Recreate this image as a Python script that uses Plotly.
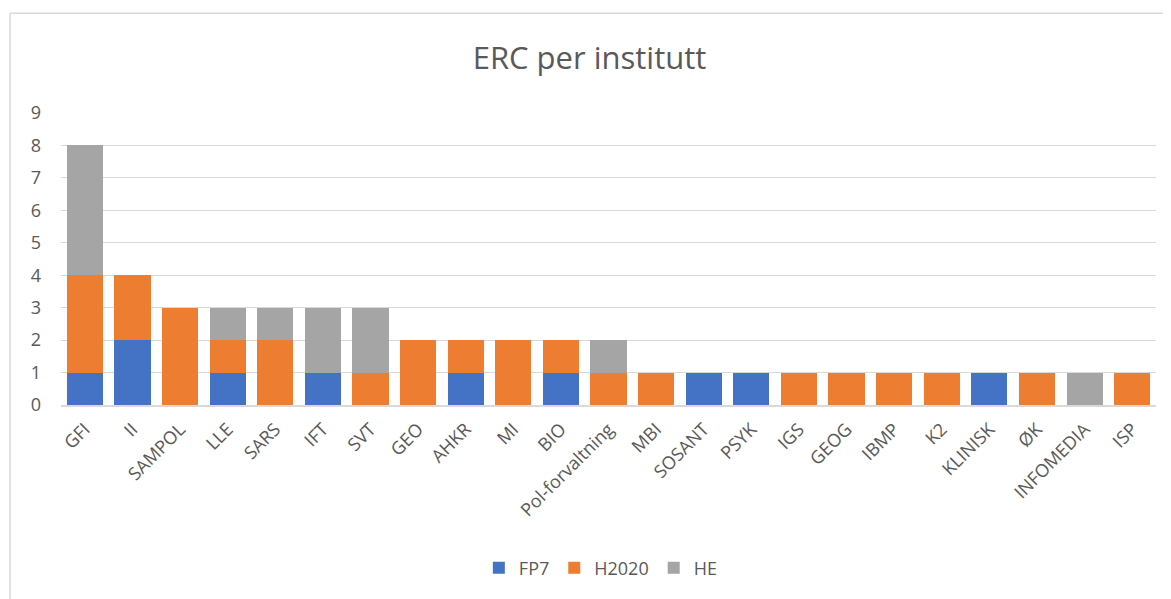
import plotly.graph_objects as go

categories = ["GFI", "II", "SAMPOL", "LLE", "SARS", "IFT", "SVT", "GEO", "AHKR", "MI", "BIO",
              "Pol-forvaltning", "MBI", "SOSANT", "PSYK", "IGS", "GEOG", "IBMP", "K2", "KLINISK",
              "ØK", "INFOMEDIA", "ISP"]
fp7 =   [1, 2, 0, 1, 0, 1, 0, 0, 1, 0, 1, 0, 0, 1, 1, 0, 0, 0, 0, 1, 0, 0, 0]
h2020 = [3, 2, 3, 1, 2, 0, 1, 2, 1, 2, 1, 1, 1, 0, 0, 1, 1, 1, 1, 0, 1, 0, 1]
he =    [4, 0, 0, 1, 1, 2, 2, 0, 0, 0, 0, 1, 0, 0, 0, 0, 0, 0, 0, 0, 0, 1, 0]
y_ticks = [0, 1, 2, 3, 4, 5, 6, 7, 8, 9]

font_family = "Open Sans, Carlito, Liberation Sans, sans-serif"
txt = "#595959"

fig = go.Figure()
for name, vals, col in [("FP7", fp7, "#4472C4"), ("H2020", h2020, "#ED7D31"), ("HE", he, "#A5A5A5")]:
    fig.add_trace(go.Bar(name=name, x=categories, y=vals, marker=dict(color=col, line=dict(width=0))))

fig.update_layout(
    barmode="stack",
    bargap=0.24,
    width=1163, height=591,
    paper_bgcolor="white", plot_bgcolor="white",
    margin=dict(l=53, r=15, t=105, b=194, autoexpand=False),
    title=dict(text="ERC per institutt", x=0.5, xanchor="center", y=0.915, yanchor="middle",
               font=dict(family=font_family, size=31, color=txt)),
    font=dict(family=font_family, color=txt),
    xaxis=dict(tickangle=-45, tickfont=dict(size=18, color=txt), showgrid=False, automargin=False,
               showline=True, linecolor="#D9D9D9", linewidth=1.5, ticks="", ticklabelstandoff=5),
    yaxis=dict(range=[0, 9], tickvals=y_ticks, tickfont=dict(size=18, color=txt), automargin=False,
               showgrid=True, gridcolor="#D9D9D9", gridwidth=1, zeroline=False,
               ticks="", ticklabelstandoff=19),
    legend=dict(orientation="h", x=0.493, xanchor="center", y=-0.558, yanchor="middle",
                font=dict(size=18, color=txt), traceorder="normal"),
    shapes=[
        dict(type="line", xref="paper", yref="paper", x0=-0.0466, x1=1.1, y0=1.342, y1=1.342,
             line=dict(color="#D9D9D9", width=1.5)),
        dict(type="line", xref="paper", yref="paper", x0=-0.0466, x1=-0.0466, y0=1.342, y1=-0.8,
             line=dict(color="#D9D9D9", width=1.5)),
    ],
)
fig.write_html("out.html")
